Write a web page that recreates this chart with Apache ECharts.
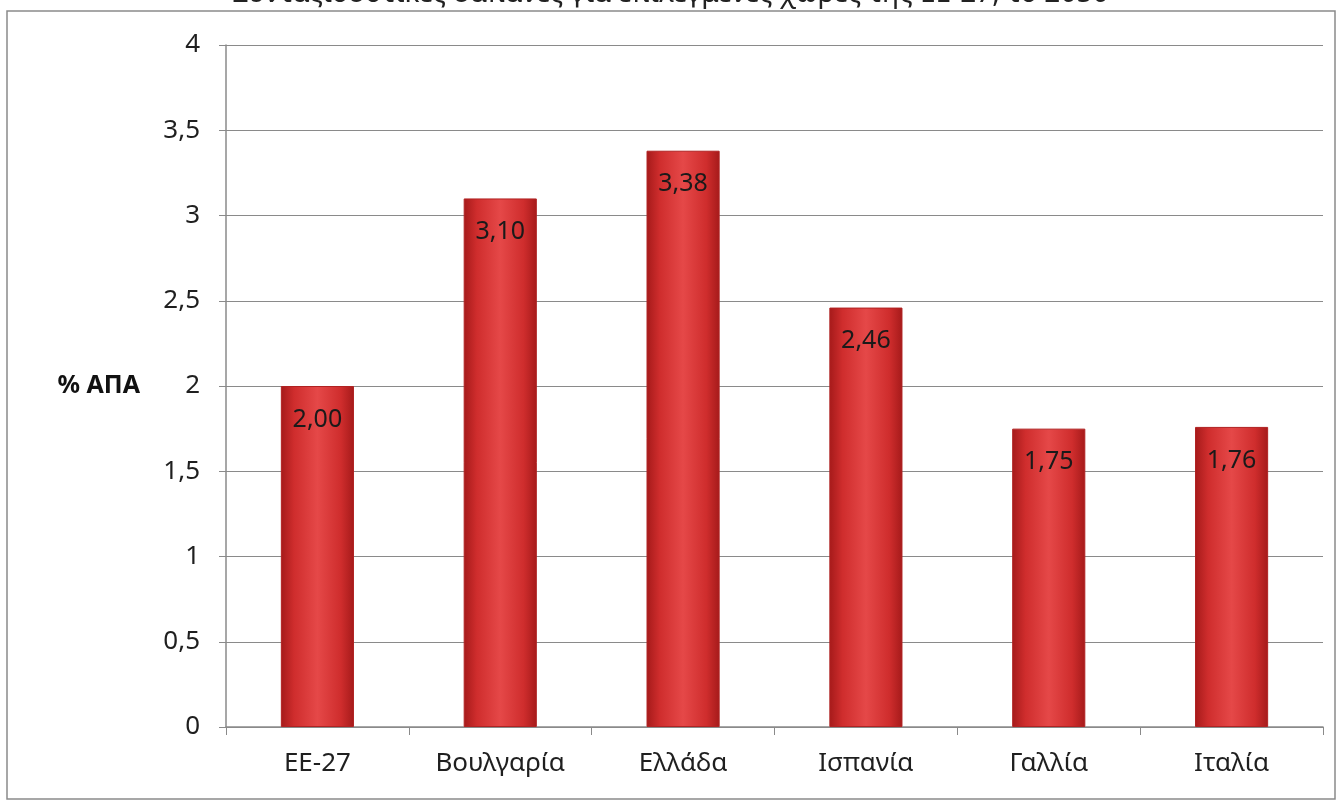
<!DOCTYPE html>
<html>
<head>
<meta charset="utf-8">
<script src="https://cdn.jsdelivr.net/npm/echarts@6/dist/echarts.min.js"></script>
<style>
  html, body { margin: 0; padding: 0; background: #fff; }
  #chart { width: 1341px; height: 802px; }
</style>
</head>
<body>
<div id="chart"></div>
<script>
const countries = ['ΕΕ-27', 'Βουλγαρία', 'Ελλάδα', 'Ισπανία', 'Γαλλία', 'Ιταλία']
const values = [2.00, 3.10, 3.38, 2.46, 1.75, 1.76]
const titleText = 'Συνταξιοδοτικές δαπάνες για επιλεγμένες χώρες της ΕΕ-27, το 2050'
const axisName = '% ΑΠΑ'

const font = '"Noto Sans", "Open Sans", sans-serif'
const comma = (v) => String(v).replace('.', ',')

const chart = echarts.init(document.getElementById('chart'))

const barColor = new echarts.graphic.LinearGradient(0, 0, 1, 0, [
  { offset: 0, color: '#a51a1a' },
  { offset: 0.18, color: '#cf2d2d' },
  { offset: 0.5, color: '#e54848' },
  { offset: 0.82, color: '#cf2d2d' },
  { offset: 1, color: '#a51a1a' }
])

chart.setOption({
  animation: false,
  textStyle: { fontFamily: font },
  title: {
    text: titleText,
    left: 'center',
    top: -25,
    textStyle: { fontFamily: font, fontSize: 28, fontWeight: 'normal', color: '#222' }
  },
  graphic: [{
    type: 'rect',
    shape: { x: 7, y: 11, width: 1328, height: 788 },
    style: { fill: 'none', stroke: '#8a8a8a', lineWidth: 1.5 }
  }],
  grid: { left: 226, right: 18, top: 45, bottom: 75 },
  xAxis: {
    type: 'category',
    data: countries,
    axisLine: { lineStyle: { color: '#8a8a8a', width: 1.5 } },
    axisTick: { show: true, length: 8, lineStyle: { color: '#8a8a8a' } },
    axisLabel: { color: '#1f1f1f', fontSize: 26, margin: 24, fontFamily: font }
  },
  yAxis: {
    type: 'value',
    min: 0,
    max: 4,
    interval: 0.5,
    name: axisName,
    nameLocation: 'middle',
    nameRotate: 0,
    nameGap: 86,
    nameTextStyle: { color: '#111', fontSize: 25, fontWeight: 'bold', fontFamily: font, align: 'right' },
    axisLine: { show: true, lineStyle: { color: '#8a8a8a', width: 1.5 } },
    axisTick: { show: true, length: 7, lineStyle: { color: '#8a8a8a' } },
    axisLabel: { color: '#1f1f1f', fontSize: 26, margin: 26, fontFamily: font, formatter: comma },
    splitLine: { lineStyle: { color: '#8a8a8a', width: 1.2 } }
  },
  series: [{
    type: 'bar',
    data: values,
    barWidth: '40%',
    itemStyle: { color: barColor, borderColor: '#b02222', borderWidth: 1 },
    label: {
      show: true,
      position: 'insideTop',
      distance: 21,
      color: '#1a1a1a',
      fontSize: 25,
      fontFamily: font,
      formatter: (p) => p.value.toFixed(2).replace('.', ',')
    }
  }]
})
</script>
</body>
</html>
